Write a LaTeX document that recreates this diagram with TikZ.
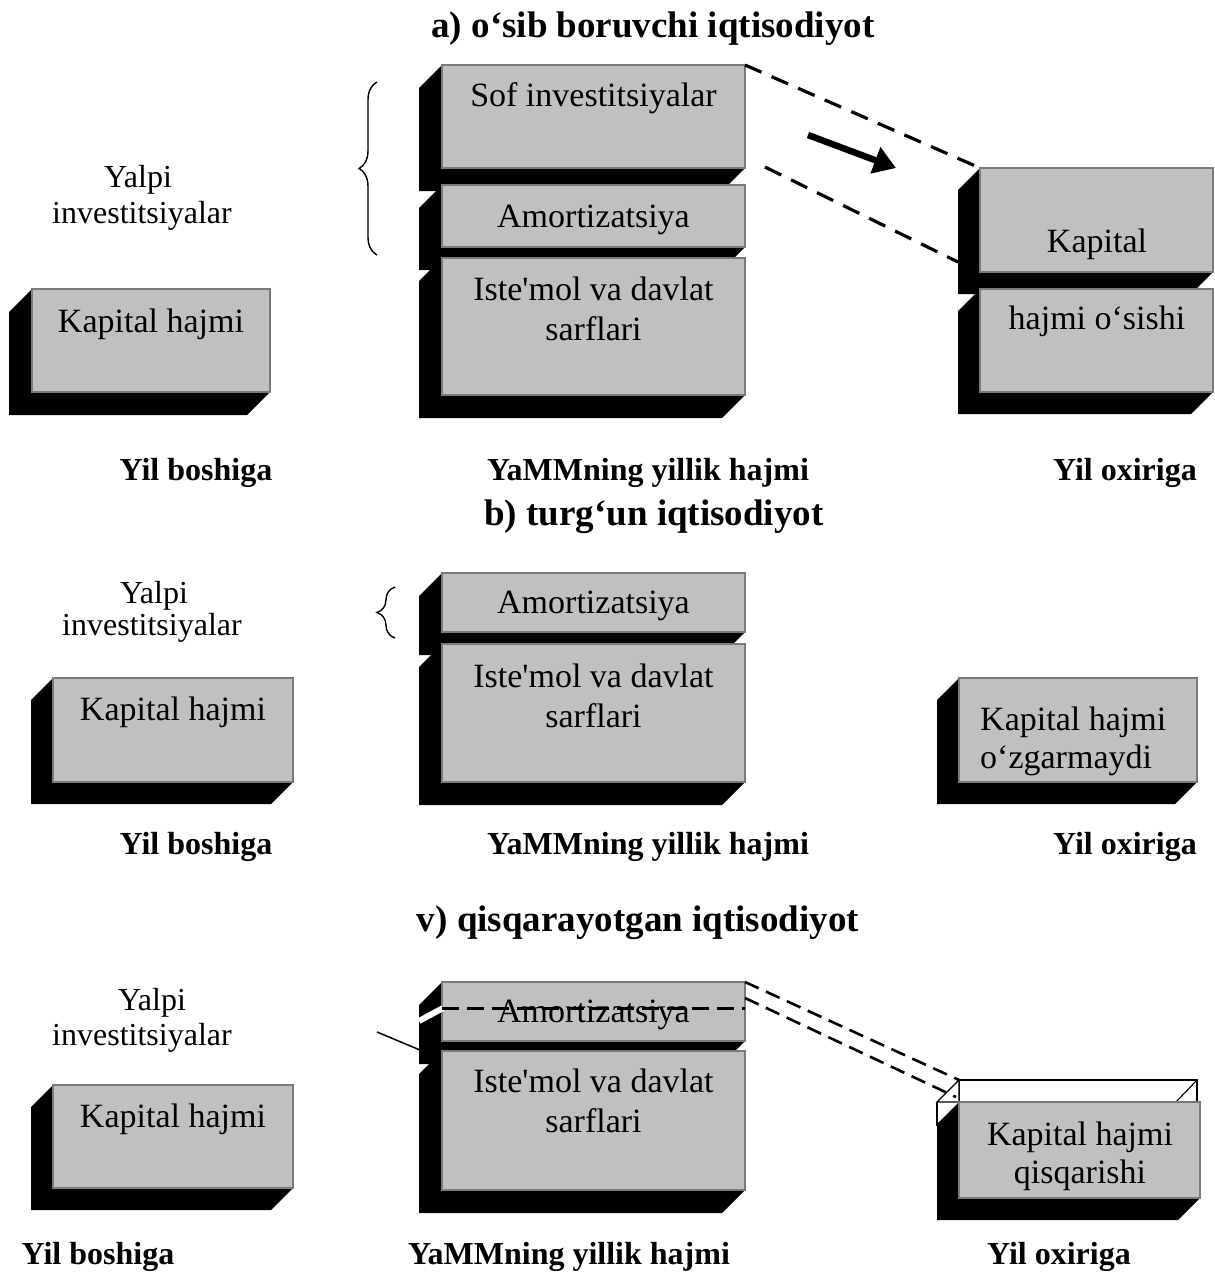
\documentclass[tikz,border=0pt]{standalone}
\usepackage{fontspec}
\setmainfont{Liberation Serif}[Ligatures=TeXOff]
\usetikzlibrary{arrows.meta,decorations.pathreplacing,calc}
\definecolor{boxgray}{HTML}{C0C0C0}
\definecolor{edgegray}{HTML}{7A7A7A}
\tikzset{
  front/.style={draw=edgegray, line width=1.8pt, fill=boxgray, inner sep=0pt, outer sep=0pt},
  btxt/.style={font=\fontsize{34}{39}\selectfont, inner sep=0pt, anchor=base},
  ytxt/.style={font=\fontsize{32}{38}\selectfont, inner sep=0pt, anchor=base},
  lbl/.style={font=\fontsize{32}{38}\selectfont\bfseries, inner sep=0pt, anchor=base},
  ttl/.style={font=\fontsize{37}{42}\selectfont\bfseries, inner sep=0pt, anchor=base},
  dshA/.style={line width=3.2pt, dash pattern=on 18pt off 11pt},
  dshV/.style={line width=2.6pt, dash pattern=on 15pt off 8pt},
  brc/.style={decorate, decoration={brace, amplitude=18pt}, line width=1.4pt},
  ghost/.style={line width=1.1pt}
}
\newcommand\cuboid[6]{%
  \fill[black] (#2,#3) -- (#2-#6,#3+#6) -- (#2-#6,#5+#6) -- (#4-#6,#5+#6) -- (#4,#5) -- cycle;
  \node[front, minimum width=#4pt-#2pt, minimum height=#5pt-#3pt] (#1) at ({(#2+#4)/2},{(#3+#5)/2}) {};
}
\begin{document}
\begin{tikzpicture}[x=1pt,y=-1pt]
\useasboundingbox (0,0) rectangle (1215,1285);

% ===== a) =====
\node[ttl] (ttlA) at (653,37) {a) o‘sib boruvchi iqtisodiyot};
\node[ytxt] (yA1) at (138,187) {Yalpi};
\node[ytxt] (yA2) at (142,223) {investitsiyalar};
\coordinate (brA1) at (377,255);
\coordinate (brA2) at (377,82);
\draw[brc] (brA1) -- (brA2);

\cuboid{kapA}{32}{289}{270}{392}{23}
\node[btxt] (kapAt) at (151,332) {Kapital hajmi};

\cuboid{sofA}{442}{65}{745}{168}{23}
\node[btxt] (sofAt) at (593.5,106) {Sof investitsiyalar};
\cuboid{amA}{442}{185}{745}{247}{23}
\node[btxt] (amAt) at (593.5,227) {Amortizatsiya};
\cuboid{isA}{442}{258}{745}{395}{23}
\node[btxt] (isAt1) at (593.5,300) {Iste'mol va davlat};
\node[btxt] (isAt2) at (593.5,340) {sarflari};

\cuboid{kapRA}{980}{168}{1213}{272}{22}
\node[btxt] (kapRAt) at (1097,252) {Kapital};
\cuboid{osA}{980}{289}{1213}{392}{22}
\node[btxt] (osAt) at (1097,329) {hajmi o‘sishi};

\draw[dshA] (sofA.north east) -- (kapRA.north west);
\coordinate (dA1) at (765,167);
\coordinate (dA2) at (958,262);
\draw[dshA] (dA1) -- (dA2);
\coordinate (arS) at (808,135);
\coordinate (arE) at (896,168);
\draw[line width=6.5pt, -{Triangle[length=22pt,width=27pt]}] (arS) -- (arE);

\node[lbl] (lA1) at (196,480) {Yil boshiga};
\node[lbl] (lA2) at (648,480) {YaMMning yillik hajmi};
\node[lbl] (lA3) at (1125,480) {Yil oxiriga};

% ===== b) =====
\node[ttl] (ttlB) at (654,525) {b) turg‘un iqtisodiyot};
\node[ytxt] (yB1) at (154,603) {Yalpi};
\node[ytxt] (yB2) at (152,635) {investitsiyalar};
\coordinate (brB1) at (395,638);
\coordinate (brB2) at (395,587);
\draw[brc] (brB1) -- (brB2);

\cuboid{kapB}{53}{678}{293}{782}{22}
\node[btxt] (kapBt) at (173,720) {Kapital hajmi};

\cuboid{amB}{442}{573}{745}{632}{23}
\node[btxt] (amBt) at (593.5,613) {Amortizatsiya};
\cuboid{isB}{442}{644}{745}{782}{23}
\node[btxt] (isBt1) at (593.5,687) {Iste'mol va davlat};
\node[btxt] (isBt2) at (593.5,727) {sarflari};

\cuboid{kapRB}{959}{678}{1197}{782}{22}
\node[btxt, anchor=base west] (kapRBt1) at (980,730) {Kapital hajmi};
\node[btxt, anchor=base west] (kapRBt2) at (980,768) {o‘zgarmaydi};

\node[lbl] (lB1) at (196,854) {Yil boshiga};
\node[lbl] (lB2) at (648,854) {YaMMning yillik hajmi};
\node[lbl] (lB3) at (1125,854) {Yil oxiriga};

% ===== v) =====
\node[ttl] (ttlV) at (638,931) {v) qisqarayotgan iqtisodiyot};
\node[ytxt] (yV1) at (152,1010) {Yalpi};
\node[ytxt] (yV2) at (142,1045) {investitsiyalar};
\coordinate (lnV1) at (377,1032);
\coordinate (lnV2) at (420,1050);
\draw[line width=1.5pt] (lnV1) -- (lnV2);

\cuboid{kapV}{53}{1085}{293}{1188}{22}
\node[btxt] (kapVt) at (173,1127) {Kapital hajmi};

\cuboid{amV}{442}{982}{745}{1041}{23}
\node[btxt] (amVt) at (593.5,1022) {Amortizatsiya};
\draw[white, line width=6pt] (419,1021) -- (443,1008);
\coordinate (stV1) at (442,1008);
\coordinate (stV2) at (745,1008);
\draw[line width=3pt, dash pattern=on 17pt off 8pt] (stV1) -- (stV2);
\cuboid{isV}{442}{1051}{745}{1190}{23}
\node[btxt] (isVt1) at (593.5,1092) {Iste'mol va davlat};
\node[btxt] (isVt2) at (593.5,1132) {sarflari};

% ghost (former capital)
\filldraw[ghost, fill=white] (959,1080) rectangle (1197,1102);
\filldraw[ghost, fill=white] (959,1080) -- (937,1102) -- (959,1102) -- cycle;
\draw[ghost] (1197,1080) -- (1176,1102);
\draw[ghost] (937,1102) -- (937,1126);
\coordinate (gV1) at (959,1080);
\coordinate (gV2) at (956,1097);
\coordinate (amVr) at (745,998);
\draw[dshV] (amV.north east) -- (gV1);
\draw[dshV] (amVr) -- (gV2);

\cuboid{kapRV}{959}{1102}{1200}{1198}{22}
\node[btxt] (kapRVt1) at (1080,1145) {Kapital hajmi};
\node[btxt] (kapRVt2) at (1080,1183) {qisqarishi};

\node[lbl] (lV1) at (98,1264) {Yil boshiga};
\node[lbl] (lV2) at (569,1264) {YaMMning yillik hajmi};
\node[lbl] (lV3) at (1059,1264) {Yil oxiriga};
\end{tikzpicture}
\end{document}
